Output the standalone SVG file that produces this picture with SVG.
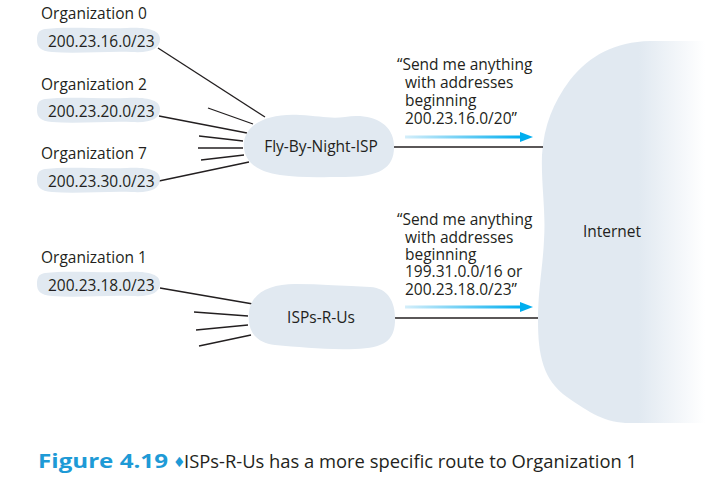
<svg xmlns="http://www.w3.org/2000/svg" width="708" height="479" viewBox="0 0 708 479">
<style>
.t{font-family:"Open Sans","Noto Sans",sans-serif;font-size:15.5px;fill:#231f20}
.ln{stroke:#231f20;stroke-width:1.3;fill:none}
.blob{fill:#e1e9f1}
.cap{font-family:"Open Sans","Noto Sans",sans-serif;font-size:19px;fill:#231f20}
</style>
<defs>
<path id="addr" d="M8 2 C30 -1 60 2 90 1 C110 0 123 3 123 12 C123 22 114 26 95 25 C70 24 40 27 15 25 C3 24 0 20 0 13 C0 6 2 3 8 2 Z"/>
<linearGradient id="arrG" x1="0" y1="0" x2="1" y2="0">
<stop offset="0" stop-color="#d4eefa"/>
<stop offset="1" stop-color="#00aeef"/>
</linearGradient>
<linearGradient id="netG" gradientUnits="userSpaceOnUse" x1="540" y1="0" x2="705" y2="0">
<stop offset="0" stop-color="#e1e9f1"/>
<stop offset="0.6" stop-color="#e1e9f1"/>
<stop offset="1" stop-color="#ffffff"/>
</linearGradient>
</defs>
<rect width="708" height="479" fill="#ffffff"/>

<g id="internet">
<path fill="url(#netG)" d="M708 41 L650 41 C615 42 590 55 570 80 C553 103 544 125 542 155 C541 185 546 210 544 240 C543 265 538 290 538 320 C538 355 543 380 567 397 C590 413 605 423 630 423 L708 423 Z"/>
<text class="t" x="612" y="237" text-anchor="middle">Internet</text>
</g>

<g id="connectors">
<line class="ln" x1="158" y1="48" x2="265" y2="117"/>
<line class="ln" x1="208" y1="108" x2="253" y2="124"/>
<line class="ln" x1="159" y1="116" x2="247" y2="133"/>
<line class="ln" x1="199" y1="136" x2="243" y2="141"/>
<line class="ln" x1="198" y1="148" x2="243" y2="148"/>
<line class="ln" x1="201" y1="160" x2="244" y2="155"/>
<line class="ln" x1="159" y1="181" x2="249" y2="162"/>
<line class="ln" x1="160" y1="288" x2="253" y2="304"/>
<line class="ln" x1="194" y1="312" x2="248" y2="316"/>
<line class="ln" x1="196" y1="330" x2="248" y2="325"/>
<line class="ln" x1="199" y1="346" x2="251" y2="335"/>
<line class="ln" x1="394" y1="147" x2="543" y2="147"/>
<line class="ln" x1="395" y1="318" x2="538" y2="318"/>
<rect x="405" y="135.5" width="117" height="3" fill="url(#arrG)"/>
<polygon points="520,132 533,137 520,142" fill="#00aeef"/>
<rect x="405" y="305.5" width="117" height="3" fill="url(#arrG)"/>
<polygon points="520,302 533,307 520,312" fill="#00aeef"/>
</g>

<g id="org0">
<text class="t" x="41" y="19">Organization 0</text>
<use href="#addr" class="blob" x="37" y="27"/>
<text class="t" x="48" y="46.5">200.23.16.0/23</text>
</g>
<g id="org2">
<text class="t" x="41" y="90">Organization 2</text>
<use href="#addr" class="blob" x="37" y="97"/>
<text class="t" x="48" y="117">200.23.20.0/23</text>
</g>
<g id="org7">
<text class="t" x="41" y="159">Organization 7</text>
<use href="#addr" class="blob" x="37" y="167"/>
<text class="t" x="48" y="187">200.23.30.0/23</text>
</g>
<g id="org1">
<text class="t" x="41" y="263">Organization 1</text>
<use href="#addr" class="blob" x="37" y="271"/>
<text class="t" x="48" y="291">200.23.18.0/23</text>
</g>

<g id="flybynight">
<path class="blob" d="M244 142 C246 123 270 113 300 115 C320 116 330 119 345 117 C370 113 393 122 394 145 C395 168 380 177 345 177 C320 177 300 178 280 175 C256 172 242 160 244 142 Z"/>
<text class="t" x="321" y="152" text-anchor="middle">Fly-By-Night-ISP</text>
</g>

<g id="ispsrus">
<path class="blob" d="M249 312 C251 293 270 284 295 284 C320 284 345 286 370 287 C390 288 396 305 395 322 C394 340 385 348 355 349 C325 350 300 347 275 345 C255 343 247 330 249 312 Z"/>
<text class="t" x="321" y="323" text-anchor="middle">ISPs-R-Us</text>
</g>

<g id="msg1">
<text class="t"><tspan x="397" y="70">“Send me anything</tspan><tspan x="405" y="88">with addresses</tspan><tspan x="405" y="106">beginning</tspan><tspan x="405" y="124">200.23.16.0/20”</tspan></text>
</g>
<g id="msg2">
<text class="t"><tspan x="397" y="225">“Send me anything</tspan><tspan x="405" y="243">with addresses</tspan><tspan x="405" y="260">beginning</tspan><tspan x="405" y="277">199.31.0.0/16 or</tspan><tspan x="405" y="295">200.23.18.0/23”</tspan></text>
</g>

<g id="caption">
<text class="cap" x="38" y="468" font-weight="bold" style="fill:#1e9ad6" textLength="130" lengthAdjust="spacingAndGlyphs">Figure 4.19</text>
<text x="173" y="467" font-family="DejaVu Sans,sans-serif" font-size="14" fill="#1e9ad6">♦</text>
<text class="cap" x="184" y="468" textLength="453" lengthAdjust="spacingAndGlyphs">ISPs-R-Us has a more specific route to Organization 1</text>
</g>
</svg>
